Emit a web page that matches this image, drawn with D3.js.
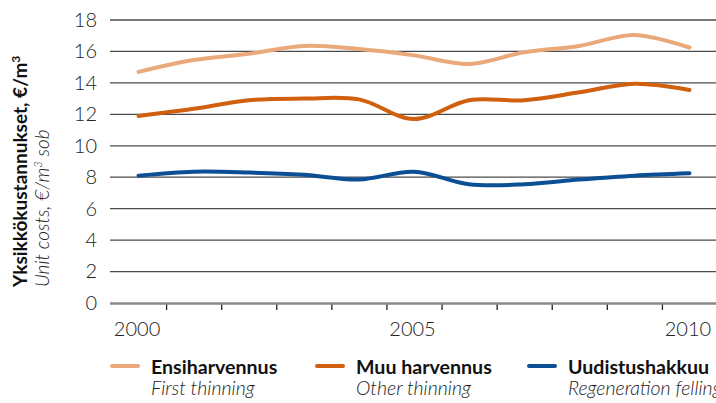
<!DOCTYPE html>
<meta charset="utf-8">
<head>
<style>
  body { margin: 0; background: white; font-family: Lato, "Open Sans", sans-serif; }
  svg { display: block; }
</style>
<script src="https://cdn.jsdelivr.net/npm/d3@7"></script>
</head>
<body>
<svg id="chart"></svg>
<script>
// data
let years = [2000, 2001, 2002, 2003, 2004, 2005, 2006, 2007, 2008, 2009, 2010]
let ensiharvennus = [14.7, 15.45, 15.85, 16.35, 16.15, 15.75, 15.2, 15.95, 16.35, 17.05, 16.25]
let muuHarvennus = [11.9, 12.35, 12.9, 13.0, 12.95, 11.7, 12.9, 12.9, 13.4, 13.95, 13.55]
let uudistushakkuu = [8.1, 8.35, 8.3, 8.15, 7.85, 8.35, 7.55, 7.55, 7.85, 8.1, 8.25]
let yTicks = [0, 2, 4, 6, 8, 10, 12, 14, 16, 18]
let xLabels = [2000, 2005, 2010]

let series = [
  { name: "Ensiharvennus", sub: "First thinning", values: ensiharvennus, color: "#eaa97a" },
  { name: "Muu harvennus", sub: "Other thinning", values: muuHarvennus, color: "#d05f0e" },
  { name: "Uudistushakkuu", sub: "Regeneration felling", values: uudistushakkuu, color: "#0d4f94" }
]

let width = 716, height = 403
let margin = { top: 20, left: 111, right: 0, bottom: 100 }

let svg = d3.select("#chart").attr("width", width).attr("height", height)

let xScale = d3.scaleLinear()
  .domain([1999.5, 2010.5])
  .range([margin.left, 717])
let yScale = d3.scaleLinear()
  .domain([0, 18])
  .range([303, margin.top])

// gridlines
svg.append("g")
  .selectAll("line")
  .data(yTicks.filter(d => d > 0))
  .enter()
  .append("line")
  .attr("x1", 110).attr("x2", width)
  .attr("y1", d => yScale(d)).attr("y2", d => yScale(d))
  .attr("stroke", "#4a4a4a")
  .attr("stroke-width", 1.3)

// y tick labels
let axisY = d3.axisLeft(yScale).tickValues(yTicks).tickSize(0).tickPadding(0)
svg.append("g")
  .attr("transform", "translate(97,0)")
  .call(axisY)
  .call(g => g.select(".domain").remove())
  .selectAll("text")
  .attr("font-family", "Lato, sans-serif")
  .attr("font-weight", 300)
  .attr("font-size", 20)
  .attr("fill", "#222")

// x axis: minor ticks between the years
let axisX = d3.axisBottom(xScale)
  .tickValues(d3.range(2000.5, 2010, 1))
  .tickSize(6)
  .tickFormat("")
svg.append("g")
  .attr("transform", `translate(0,${yScale(0) + 1})`)
  .call(axisX)
  .call(g => g.select(".domain").remove())
  .selectAll("line")
  .attr("stroke", "#222")
  .attr("stroke-width", 1.3)

svg.append("line")
  .attr("x1", 110).attr("x2", width)
  .attr("y1", yScale(0) + 0.5).attr("y2", yScale(0) + 0.5)
  .attr("stroke", "#8a8a8a")
  .attr("stroke-width", 2.5)

let axisXLabels = d3.axisBottom(xScale).tickValues(xLabels).tickSize(0).tickPadding(0).tickFormat(d3.format("d"))
svg.append("g")
  .attr("transform", "translate(-2,322)")
  .call(axisXLabels)
  .call(g => g.select(".domain").remove())
  .selectAll("text")
  .attr("font-family", "Lato, sans-serif")
  .attr("font-weight", 300)
  .attr("font-size", 20)
  .attr("fill", "#222")

// lines
let line = d3.line()
  .x((d, i) => xScale(years[i]))
  .y(d => yScale(d))
  .curve(d3.curveCatmullRom.alpha(0.5))

svg.append("g")
  .selectAll("path")
  .data(series)
  .enter()
  .append("path")
  .attr("d", d => line(d.values))
  .attr("fill", "none")
  .attr("stroke", d => d.color)
  .attr("stroke-width", 4)
  .attr("stroke-linecap", "round")

// axis title
let title = svg.append("g").attr("transform", "translate(0,287) rotate(-90)")
title.append("text")
  .attr("x", 0).attr("y", 27)
  .attr("font-weight", 700)
  .attr("font-size", 19)
  .attr("fill", "#111")
  .text("Yksikkökustannukset, €/m")
  .append("tspan")
  .attr("font-size", 12).attr("dy", -7)
  .text("3")
title.append("text")
  .attr("x", 0).attr("y", 49)
  .attr("font-weight", 300)
  .attr("font-style", "italic")
  .attr("font-size", 19)
  .attr("fill", "#222")
  .text("Unit costs, €/m")
  .call(t => t.append("tspan").attr("font-size", 11).attr("dy", -7).text("3"))
  .call(t => t.append("tspan").attr("dy", 7).text(" sob"))

// legend
let legendX = [110, 315, 527]
let legend = svg.append("g")
  .selectAll("g")
  .data(series)
  .enter()
  .append("g")
  .attr("transform", (d, i) => `translate(${legendX[i]},366)`)

legend.append("line")
  .attr("x1", 2).attr("x2", 28)
  .attr("stroke", d => d.color)
  .attr("stroke-width", 4)
  .attr("stroke-linecap", "round")
legend.append("text")
  .attr("x", 41).attr("y", 8)
  .attr("font-weight", 700)
  .attr("font-size", 19.6)
  .attr("fill", "#111")
  .text(d => d.name)
legend.append("text")
  .attr("x", 41).attr("y", 29)
  .attr("font-weight", 300)
  .attr("font-style", "italic")
  .attr("font-size", 19.5)
  .attr("fill", "#222")
  .text(d => d.sub)
</script>
</body>
